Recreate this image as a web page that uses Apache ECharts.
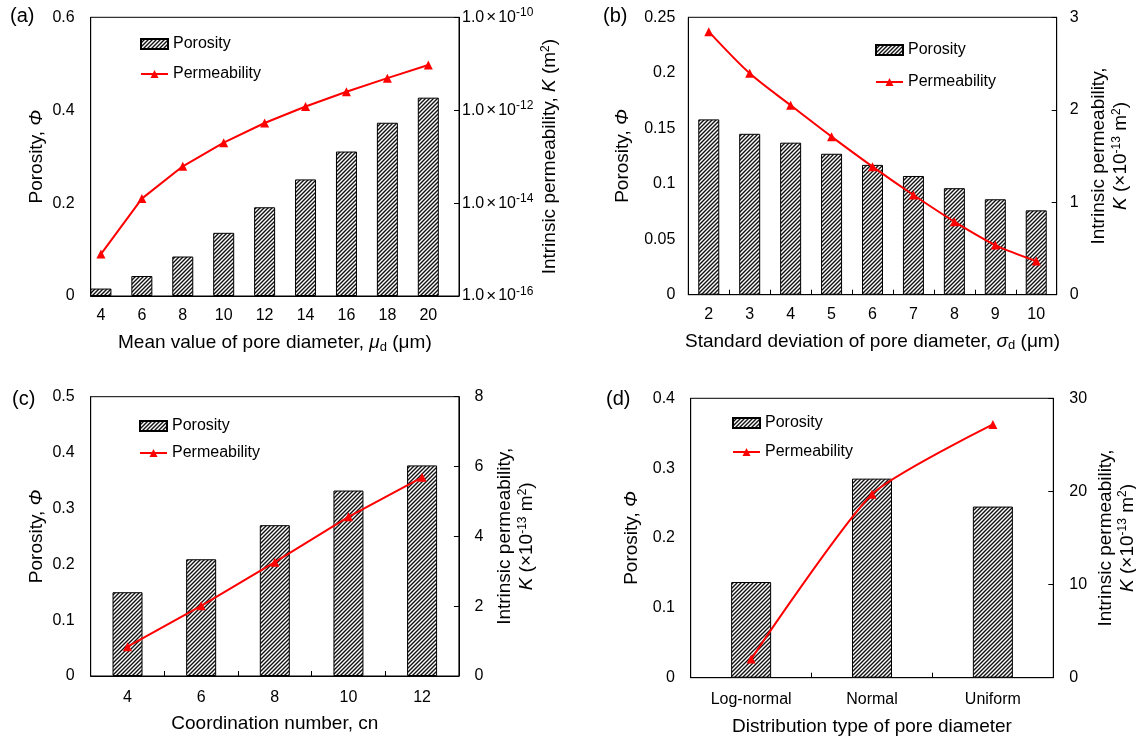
<!DOCTYPE html>
<html>
<head>
<meta charset="utf-8">
<script src="https://cdn.jsdelivr.net/npm/echarts@6/dist/echarts.min.js"></script>
<style>html,body{margin:0;padding:0;background:#fff}#c{width:1136px;height:737px}</style>
</head>
<body>
<div id="c"></div>
<script>
// ---------- data ----------
const catA = [4, 6, 8, 10, 12, 14, 16, 18, 20];
const porA = [0.016, 0.043, 0.085, 0.136, 0.191, 0.251, 0.311, 0.373, 0.427];
const permA = [8.0e-16, 1.25e-14, 6.2e-14, 2.0e-13, 5.3e-13, 1.2e-12, 2.5e-12, 4.9e-12, 9.4e-12];

const catB = ['2', '3', '4', '5', '6', '7', '8', '9', '10'];
const porB = [0.158, 0.145, 0.137, 0.127, 0.117, 0.107, 0.096, 0.086, 0.076];
const permB = [2.845, 2.394, 2.048, 1.709, 1.385, 1.078, 0.79, 0.537, 0.364];

const catC = ['4', '6', '8', '10', '12'];
const porC = [0.150, 0.209, 0.270, 0.332, 0.377];
const permC = [0.84, 2.01, 3.26, 4.56, 5.69];

const catD = ['Log-normal', 'Normal', 'Uniform'];
const porD = [0.137, 0.285, 0.245];
const permD = [2.0, 19.7, 27.2];

// ---------- styling ----------
const FF = '"Liberation Sans", Arial, Helvetica, sans-serif';
function hatch() {
  const c = document.createElement('canvas');
  c.width = 4; c.height = 4;
  const g = c.getContext('2d');
  g.fillStyle = '#fff'; g.fillRect(0, 0, 4, 4);
  g.strokeStyle = '#111'; g.lineWidth = 1.4;
  g.beginPath();
  g.moveTo(0, 4); g.lineTo(4, 0);
  g.moveTo(-1, 1); g.lineTo(1, -1);
  g.moveTo(3, 5); g.lineTo(5, 3);
  g.stroke();
  return c;
}
const pattern = { image: hatch(), repeat: 'repeat' };

const T = 16, N = 19;
const rich = {
  i: { fontFamily: FF, fontSize: N, fontStyle: 'italic', color: '#000' },
  sub: { fontFamily: FF, fontSize: 13, fontStyle: 'normal', color: '#000', padding: [8, 0, 0, 0] },
  sup: { fontFamily: FF, fontSize: 12, color: '#000', padding: [0, 0, 9, 0] },
  n: { fontFamily: FF, fontSize: N, color: '#000' }
};
const nameStyle = { fontFamily: FF, fontSize: N, color: '#000', lineHeight: 22, rich: rich };
const axLine = { show: true, lineStyle: { color: '#000', width: 1 } };

const grids = [
  { left: 90.7, top: 17.3, width: 368.3, height: 278.7 },
  { left: 688.3, top: 17.3, width: 368.4, height: 277.4 },
  { left: 90.7, top: 396.7, width: 368.2, height: 279.3 },
  { left: 690.7, top: 398.3, width: 362.6, height: 279.4 }
].map(g => Object.assign(g, { show: true, borderColor: '#000', borderWidth: 1, backgroundColor: 'transparent', containLabel: false, outerBoundsMode: 'none' }));

function xCat(gi, data, nameTxt, gap, margin) {
  return {
    type: 'category', gridIndex: gi, data: data,
    name: nameTxt, nameLocation: 'middle', nameGap: gap, nameTextStyle: nameStyle,
    axisLine: axLine,
    axisTick: { show: true, inside: true, length: 5, lineStyle: { color: '#000' } },
    axisLabel: { interval: 0, margin: margin, fontFamily: FF, fontSize: T, color: '#000' },
    splitLine: { show: false }
  };
}
function yVal(gi, pos, min, max, interval, nameTxt, gap, margin, ticks) {
  return {
    type: 'value', gridIndex: gi, position: pos, min: min, max: max, interval: interval,
    name: nameTxt, nameLocation: 'middle', nameGap: gap, nameTextStyle: nameStyle,
    axisLine: axLine,
    axisTick: { show: ticks, inside: true, length: 5, lineStyle: { color: '#000' } },
    axisLabel: { margin: margin, fontFamily: FF, fontSize: T, color: '#000' },
    splitLine: { show: false }
  };
}

const porName = 'Porosity, {i|Φ}';
const permName2 = 'Intrinsic permeability,\n{i|K} (×10{sup|-13} m{sup|2})';

const xAxes = [
  {
    type: 'value', gridIndex: 0, min: 3.5, max: 21.5,
    name: 'Mean value of pore diameter, {i|μ}{sub|d} (μm)', nameLocation: 'middle', nameGap: 36, nameTextStyle: nameStyle,
    axisLine: axLine,
    axisTick: { show: false },
    axisLabel: { customValues: catA, margin: 12, fontFamily: FF, fontSize: T, color: '#000' },
    splitLine: { show: false }
  },
  xCat(1, catB, 'Standard deviation of pore diameter, {i|σ}{sub|d} (μm)', 36, 12),
  xCat(2, catC, 'Coordination number, cn', 37, 14),
  xCat(3, catD, 'Distribution type of pore diameter', 38, 14)
];

const yAxes = [
  yVal(0, 'left', 0, 0.6, 0.2, porName, 43, 16, false),
  {
    type: 'log', logBase: 100, gridIndex: 0, position: 'right', min: 1e-16, max: 1e-10,
    name: 'Intrinsic permeability, {i|K} (m{sup|2})', nameLocation: 'middle', nameGap: 80, nameTextStyle: nameStyle,
    axisLine: axLine,
    axisTick: { show: true, inside: true, length: 5, lineStyle: { color: '#000' } },
    axisLabel: {
      margin: 3, fontFamily: FF, fontSize: T, color: '#000',
      formatter: v => '1.0{x|×}10{s|' + Math.round(Math.log10(v)) + '}',
      rich: {
        x: { fontFamily: FF, fontSize: 17, color: '#000', padding: [0, 2, 0, 2] },
        s: { fontFamily: FF, fontSize: 12, color: '#000', padding: [0, 0, 9, 0] }
      }
    },
    splitLine: { show: false }
  },
  yVal(1, 'left', 0, 0.25, 0.05, porName, 55, 13, false),
  yVal(1, 'right', 0, 3, 1, permName2, 31, 13, true),
  yVal(2, 'left', 0, 0.5, 0.1, porName, 43, 16, false),
  yVal(2, 'right', 0, 8, 2, permName2, 35, 15.6, true),
  yVal(3, 'left', 0, 0.4, 0.1, porName, 48, 15.7, false),
  yVal(3, 'right', 0, 30, 10, permName2, 41, 16, true)
];

function barS(xi, yi, data, w) {
  return {
    name: 'Porosity', type: 'bar', xAxisIndex: xi, yAxisIndex: yi, data: data, barWidth: w,
    itemStyle: { color: pattern, borderColor: '#000', borderWidth: 1 },
    emphasis: { disabled: true }, z: 2
  };
}
function lineS(xi, yi, data, smooth) {
  return {
    name: 'Permeability', type: 'line', xAxisIndex: xi, yAxisIndex: yi, data: data, smooth: smooth,
    symbol: 'triangle', symbolSize: 9,
    lineStyle: { color: '#ff0000', width: 2 },
    itemStyle: { color: '#ff0000' },
    emphasis: { disabled: true }, z: 3
  };
}

const series = [
  barS(0, 0, catA.map((c, i) => [c, porA[i]]), 21),
  lineS(0, 1, catA.map((c, i) => [c, permA[i]]), false),
  barS(1, 2, porB, 21),
  lineS(1, 3, permB, 0.3),
  barS(2, 4, porC, 30),
  lineS(2, 5, permC, false),
  barS(3, 6, porD, 40),
  lineS(3, 7, permD, 0.2)
];

function legendAt(left, top, gap) {
  return {
    orient: 'vertical', left: left, top: top, itemGap: gap, padding: 0,
    itemWidth: 27, itemHeight: 10,
    data: [{ name: 'Porosity', icon: 'rect' }, { name: 'Permeability' }],
    textStyle: { fontFamily: FF, fontSize: T, color: '#000' },
    selectedMode: false
  };
}

const titles = [
  ['(a)', 10, 6], ['(b)', 603, 6], ['(c)', 12, 389], ['(d)', 606, 389]
].map(t => ({ text: t[0], left: t[1], top: t[2], padding: 0, textStyle: { fontFamily: FF, fontSize: 20, fontWeight: 'normal', color: '#000' } }));

const chart = echarts.init(document.getElementById('c'), null, { renderer: 'canvas' });
chart.setOption({
  animation: false,
  backgroundColor: '#fff',
  textStyle: { fontFamily: FF },
  title: titles,
  legend: [legendAt(140, 36, 14), legendAt(875, 42, 16), legendAt(139, 418, 11), legendAt(732, 415, 13)],
  grid: grids,
  xAxis: xAxes,
  yAxis: yAxes,
  series: series
});
</script>
</body>
</html>
